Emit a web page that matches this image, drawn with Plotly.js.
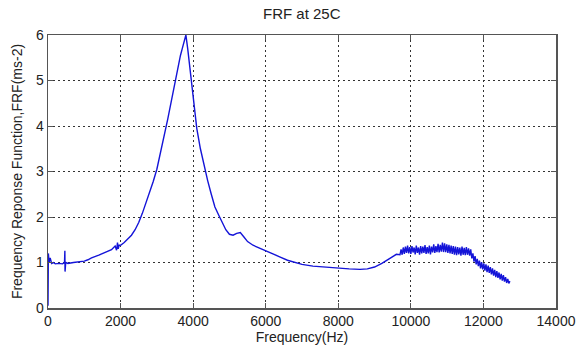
<!DOCTYPE html>
<html>
<head>
<meta charset="utf-8">
<script src="https://cdn.plot.ly/plotly-3.0.1.min.js"></script>
<style>html,body{margin:0;padding:0;background:#fff;}#chart{width:586px;height:354px;}</style>
</head>
<body>
<div id="chart"></div>
<script>
// Smooth part of the FRF curve (Hz, ms-2)
const freqSmooth = [0,10,30,60,100,150,200,300,400,455,465,470,478,485,495,550,700,900,1000,1100,1200,1400,1600,1750,1850,1890,1915,1935,1960,2000,2100,2200,2300,2400,2500,2600,2700,2800,2900,3000,3100,3200,3300,3400,3500,3600,3650,3700,3750,3800,3850,3900,3950,4000,4050,4100,4200,4300,4400,4500,4600,4700,4800,4900,5000,5100,5200,5300,5400,5500,5650,5800,6000,6200,6400,6600,6800,7000,7300,7600,8000,8300,8600,8800,9000,9200,9400,9600];
const frfSmooth  = [0.05,1.2,1.0,1.1,0.98,1.0,0.97,0.98,0.97,1.0,1.26,0.8,1.15,0.97,1.0,0.98,1.0,1.02,1.03,1.06,1.1,1.16,1.22,1.28,1.36,1.27,1.44,1.3,1.38,1.38,1.44,1.52,1.6,1.72,1.88,2.08,2.3,2.52,2.78,3.05,3.4,3.75,4.15,4.55,4.97,5.4,5.55,5.7,5.88,6.0,5.7,5.3,4.98,4.65,4.3,3.95,3.5,3.12,2.8,2.5,2.22,2.05,1.88,1.72,1.62,1.6,1.64,1.66,1.56,1.46,1.38,1.33,1.27,1.19,1.12,1.05,1.0,0.96,0.92,0.9,0.87,0.86,0.85,0.86,0.9,0.98,1.08,1.18];
// Noisy high-frequency part
const freqNoisy = [9700,9730,9760,9790,9820,9850,9880,9910,9940,9970,10000,10030,10060,10090,10120,10150,10180,10210,10240,10270,10300,10330,10360,10390,10420,10450,10480,10510,10540,10570,10600,10630,10660,10690,10720,10750,10780,10810,10840,10870,10900,10930,10960,10990,11020,11050,11080,11110,11140,11170,11200,11230,11260,11290,11320,11350,11380,11410,11440,11470,11500,11530,11560,11590,11620,11650,11680,11710,11740,11770,11800,11830,11860,11890,11920,11950,11980,12010,12040,12070,12100,12130,12160,12190,12220,12250,12280,12310,12340,12370,12400,12430,12460,12490,12520,12550,12580,12610,12640,12670,12700,12730];
const frfNoisy  = [1.17,1.29,1.17,1.33,1.19,1.35,1.21,1.37,1.20,1.34,1.19,1.36,1.22,1.33,1.18,1.37,1.21,1.33,1.17,1.36,1.20,1.35,1.21,1.38,1.19,1.34,1.20,1.37,1.18,1.35,1.22,1.40,1.21,1.36,1.23,1.41,1.22,1.39,1.24,1.44,1.23,1.42,1.23,1.40,1.21,1.39,1.20,1.37,1.19,1.36,1.17,1.35,1.16,1.34,1.18,1.33,1.15,1.35,1.17,1.32,1.16,1.34,1.17,1.31,1.15,1.29,1.09,1.20,1.02,1.14,0.96,1.08,0.92,1.04,0.87,1.01,0.85,0.98,0.82,0.96,0.79,0.93,0.77,0.90,0.74,0.87,0.71,0.84,0.68,0.81,0.66,0.78,0.63,0.75,0.60,0.72,0.58,0.68,0.55,0.64,0.54,0.59];

const xTickVals = [0,2000,4000,6000,8000,10000,12000,14000];
const yTickVals = [0,1,2,3,4,5,6];

const freq = freqSmooth.concat(freqNoisy);
const frf = frfSmooth.concat(frfNoisy);

const trace = {
  x: freq, y: frf, type: 'scatter', mode: 'lines',
  line: {color: '#1414d8', width: 1.4},
  hoverinfo: 'skip'
};

const FONT = 'Liberation Sans, Arial, sans-serif';
const axisCommon = {
  showline: true, linecolor: '#555', linewidth: 1.5, mirror: 'ticks',
  ticks: 'inside', ticklen: 5, tickcolor: '#555', tickwidth: 1,
  showgrid: true, gridcolor: '#333', gridwidth: 1, griddash: '2px,3px',
  zeroline: false, automargin: false,
  tickfont: {family: FONT, size: 14, color: '#222'}
};

const layout = {
  width: 586, height: 354,
  margin: {l: 48, r: 30, t: 35, b: 46},
  paper_bgcolor: '#fff', plot_bgcolor: '#fff',
  showlegend: false,
  title: {text: 'FRF at 25C', x: 0.515, xanchor: 'center', y: 0.962, yanchor: 'middle',
          font: {family: FONT, size: 15, color: '#222'}},
  xaxis: Object.assign({}, axisCommon, {
    range: [0, 14000], tickvals: xTickVals, ticktext: xTickVals.map(String),
    title: {text: 'Frequency(Hz)', standoff: 2,
            font: {family: FONT, size: 14, color: '#222'}}
  }),
  yaxis: Object.assign({}, axisCommon, {
    range: [0, 6], tickvals: yTickVals, ticktext: yTickVals.map(String),
    title: {text: 'Frequency Reponse Function,FRF(ms-2)', standoff: 10,
            font: {family: FONT, size: 14, color: '#222'}}
  })
};

Plotly.newPlot('chart', [trace], layout, {staticPlot: true, displayModeBar: false});
</script>
</body>
</html>
